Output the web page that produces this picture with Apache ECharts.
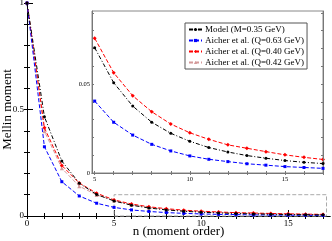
<!DOCTYPE html>
<html><head><meta charset="utf-8">
<script src="https://cdn.jsdelivr.net/npm/echarts@6/dist/echarts.min.js"></script>
<style>html,body{margin:0;padding:0;background:#fff}#c{width:332px;height:241px}</style>
</head><body><div id="c"></div>
<script>
const nValues = [0,1,2,3,4,5,6,7,8,9,10,11,12,13,14,15,16,17];
const model  = [1, 0.466, 0.258, 0.154, 0.101, 0.0704, 0.0507, 0.0376, 0.0285, 0.0223, 0.0178, 0.0143, 0.0118, 0.0098, 0.0083, 0.0070, 0.0060, 0.0053];
const q063   = [1, 0.325, 0.161, 0.094, 0.060, 0.0404, 0.0285, 0.0213, 0.0161, 0.0124, 0.0096, 0.0077, 0.0064, 0.0052, 0.0044, 0.0036, 0.0031, 0.0026];
const q040   = [1, 0.414, 0.237, 0.155, 0.107, 0.0757, 0.0563, 0.0434, 0.0344, 0.0275, 0.0226, 0.0189, 0.0158, 0.0139, 0.0120, 0.0102, 0.0088, 0.0076];
const q042   = [1, 0.398, 0.224, 0.140, 0.099, 0.0725, 0.0530, 0.0402, 0.0312, 0.0246, 0.0200, 0.0164, 0.0139, 0.0121, 0.0101, 0.0088, 0.0077, 0.0066];
const seriesNames = ['Model (M=0.35 GeV)','Aicher et al. (Q=0.63 GeV)','Aicher et al. (Q=0.40 GeV)','Aicher et al. (Q=0.42 GeV)'];

const mainXTicks = [0,1,2,3,4,5,6,7,8,9,10,11,12,13,14,15,16,17];
const mainXLabels = [0,5,10,15];
const mainYTicks = [0,0.1,0.2,0.3,0.4,0.5,0.6,0.7,0.8,0.9,1];
const mainYLabels = [0,0.5,1];
const insetXTicks = [5,6,7,8,9,10,11,12,13,14,15,16,17];
const insetXLabels = [5,10,15];
const insetYTicks = [0,0.01,0.02,0.03,0.04,0.05,0.06,0.07,0.08,0.09];
const insetYLabels = [0,0.05];
const zoomBox = [[5,0],[17.2,0.1]];
const insetStart = 5;

const FONT = 'Liberation Serif';
const styles = [
  {color:'#000000', symbol:'circle', size:3, dash:[4,2,1,2]},
  {color:'#0000ff', symbol:'rect', size:3, dash:[4,2]},
  {color:'#ff0000', symbol:'diamond', size:4, dash:[4,2]},
  {color:'#d49a9a', symbol:'triangle', size:4, dash:[4,2]}
];
const datasets = [model, q063, q040, q042];

function pairs(arr, from){
  const out=[];
  nValues.forEach((n,i)=>{ if(n>=from) out.push([n, arr[i]]); });
  return out;
}

const series=[];
datasets.forEach((d,i)=>{
  const s = styles[i];
  const base = {
    type:'line', name:seriesNames[i], symbol:s.symbol, symbolSize:s.size,
    showSymbol:true, animation:false,
    lineStyle:{color:s.color, width:1, type:s.dash},
    itemStyle:{color:s.color}, z: 5-i
  };
  series.push(Object.assign({}, base, {xAxisIndex:0, yAxisIndex:0, data:pairs(d,0)},
    i===0 ? {markArea:{silent:true, itemStyle:{color:'rgba(0,0,0,0)', borderColor:'#aaaaaa', borderWidth:1, borderType:'dashed'},
      data:[[{coord:zoomBox[0]},{coord:zoomBox[1]}]]}} : {}));
  series.push(Object.assign({}, base, {xAxisIndex:3, yAxisIndex:3, data:pairs(d,insetStart), clip:true}));
});

const lbl = {fontFamily:FONT, fontSize:9, color:'#000'};
const lblSmall = {fontFamily:FONT, fontSize:6.5, color:'#000'};

const option = {
  backgroundColor:'#fff',
  animation:false,
  grid:[
    {left:27, top:3, right:2, bottom:25, outerBoundsMode:'none', containLabel:false},
    {left:92, top:11, right:9, bottom:68, outerBoundsMode:'none', containLabel:false, show:true, backgroundColor:'#fff', borderColor:'#888', borderWidth:1, z:3}
  ],
  legend:{
    data:seriesNames, orient:'vertical', left:185, top:23,
    itemWidth:13, itemHeight:4, itemGap:2, padding:[2,3,2,3],
    borderColor:'#555', borderWidth:1, backgroundColor:'#fff',
    textStyle:{fontFamily:FONT, fontSize:9, color:'#000', padding:[0,0,0,-2]},
    z:10
  },
  xAxis:[
    {gridIndex:0, type:'value', min:0, max:17.4, position:'bottom',
      axisLine:{lineStyle:{color:'#000'}}, splitLine:{show:false},
      axisTick:{inside:true, length:3, customValues:mainXTicks, lineStyle:{color:'#000'}},
      axisLabel:Object.assign({customValues:mainXLabels, margin:3}, lbl),
      name:'n (moment order)', nameLocation:'middle', nameGap:9, nameMoveOverlap:false,
      nameTextStyle:{fontFamily:FONT, fontSize:13, color:'#000'}},
    {gridIndex:0, type:'value', min:0, max:17.4, position:'bottom',
      axisLine:{show:false}, splitLine:{show:false},
      axisTick:{inside:true, length:6, customValues:mainXLabels, lineStyle:{color:'#000'}},
      axisLabel:{show:false}},
    {gridIndex:0, type:'value', min:0, max:17.4, position:'top',
      axisLine:{lineStyle:{color:'#000'}}, splitLine:{show:false},
      axisTick:{inside:true, length:3, customValues:mainXTicks, lineStyle:{color:'#000'}},
      axisLabel:{show:false}},
    {gridIndex:1, type:'value', min:4.86, max:17, position:'bottom', z:4,
      axisLine:{lineStyle:{color:'#777'}}, splitLine:{show:false},
      axisTick:{inside:true, length:2, customValues:insetXTicks, lineStyle:{color:'#777'}},
      axisLabel:Object.assign({customValues:insetXLabels, margin:3}, lblSmall)},
    {gridIndex:1, type:'value', min:4.86, max:17, position:'top', z:4,
      axisLine:{lineStyle:{color:'#777'}}, splitLine:{show:false},
      axisTick:{inside:true, length:2, customValues:insetXTicks, lineStyle:{color:'#777'}},
      axisLabel:{show:false}}
  ],
  yAxis:[
    {gridIndex:0, type:'value', min:0, max:1, position:'left',
      axisLine:{show:true, lineStyle:{color:'#000'}}, splitLine:{show:false},
      axisTick:{show:true, inside:true, length:3, customValues:mainYTicks, lineStyle:{color:'#000'}},
      axisLabel:Object.assign({customValues:mainYLabels, margin:3}, lbl),
      name:'Mellin moment', nameLocation:'middle', nameGap:13, nameRotate:90, nameMoveOverlap:false,
      nameTextStyle:{fontFamily:FONT, fontSize:13, color:'#000'}},
    {gridIndex:0, type:'value', min:0, max:1, position:'left',
      axisLine:{show:false}, splitLine:{show:false},
      axisTick:{show:true, inside:true, length:6, customValues:mainYLabels, lineStyle:{color:'#000'}},
      axisLabel:{show:false}},
    {gridIndex:0, type:'value', min:0, max:1, position:'right',
      axisLine:{show:true, lineStyle:{color:'#000'}}, splitLine:{show:false},
      axisTick:{show:true, inside:true, length:3, customValues:mainYTicks, lineStyle:{color:'#000'}},
      axisLabel:{show:false}},
    {gridIndex:1, type:'value', min:0, max:0.091, position:'left', z:4,
      axisLine:{show:true, lineStyle:{color:'#777'}}, splitLine:{show:false},
      axisTick:{show:true, inside:true, length:2, customValues:insetYTicks, lineStyle:{color:'#777'}},
      axisLabel:Object.assign({customValues:insetYLabels, margin:2}, lblSmall)},
    {gridIndex:1, type:'value', min:0, max:0.091, position:'right', z:4,
      axisLine:{show:true, lineStyle:{color:'#777'}}, splitLine:{show:false},
      axisTick:{show:true, inside:true, length:2, customValues:insetYTicks, lineStyle:{color:'#777'}},
      axisLabel:{show:false}}
  ],
  series:series
};
const chart = echarts.init(document.getElementById('c'), null, {renderer:'canvas'});
chart.setOption(option);
</script></body></html>
